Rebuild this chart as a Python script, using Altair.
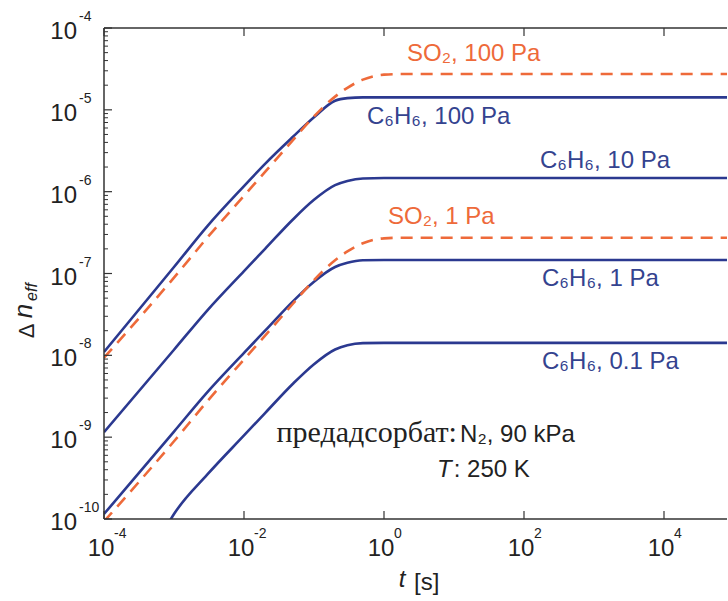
import altair as alt
import pandas as pd

# ---- data ----
t_s = [1e-4, 1e-3, 3e-3, 1e-2, 2e-2, 5e-2, 0.1, 0.2, 0.3, 0.5, 1.0, 2.0, 1e5]

c6h6_100 = [1.10e-8, 1.20e-7, 3.80e-7, 1.17e-6, 2.19e-6, 4.68e-6, 8.13e-6, 1.29e-5, 1.39e-5, 1.42e-5, 1.42e-5, 1.42e-5, 1.42e-5]
c6h6_10 = [1.15e-9, 1.17e-8, 3.55e-8, 1.07e-7, 2.00e-7, 4.57e-7, 7.94e-7, 1.20e-6, 1.35e-6, 1.45e-6, 1.47e-6, 1.47e-6, 1.47e-6]
c6h6_1 = [1.15e-10, 1.17e-9, 3.55e-9, 1.07e-8, 2.00e-8, 4.57e-8, 7.94e-8, 1.20e-7, 1.35e-7, 1.45e-7, 1.46e-7, 1.46e-7, 1.46e-7]
c6h6_01 = [1.13e-12, 1.15e-10, 3.50e-10, 1.05e-9, 1.97e-9, 4.50e-9, 7.80e-9, 1.18e-8, 1.33e-8, 1.41e-8, 1.42e-8, 1.42e-8, 1.42e-8]
so2_100 = [9.33e-9, 8.91e-8, 2.75e-7, 8.91e-7, 1.74e-6, 4.27e-6, 8.32e-6, 1.45e-5, 1.86e-5, 2.34e-5, 2.69e-5, 2.74e-5, 2.74e-5]
so2_1 = [9.33e-11, 8.91e-10, 2.75e-9, 8.91e-9, 1.74e-8, 4.27e-8, 8.32e-8, 1.45e-7, 1.86e-7, 2.34e-7, 2.69e-7, 2.74e-7, 2.74e-7]

blue_series = {"C6H6 100 Pa": c6h6_100, "C6H6 10 Pa": c6h6_10, "C6H6 1 Pa": c6h6_1, "C6H6 0.1 Pa": c6h6_01}
orange_series = {"SO2 100 Pa": so2_100, "SO2 1 Pa": so2_1}

y_major = [1e-10, 1e-9, 1e-8, 1e-7, 1e-6, 1e-5, 1e-4]
y_exp = ["-10", "-9", "-8", "-7", "-6", "-5", "-4"]
x_major = [1e-4, 1e-2, 1.0, 1e2, 1e4]
x_exp = ["-4", "-2", "0", "2", "4"]

ann_text = ["SO\u2082, 100 Pa", "C\u2086H\u2086, 100 Pa", "C\u2086H\u2086, 10 Pa", "SO\u2082, 1 Pa", "C\u2086H\u2086, 1 Pa", "C\u2086H\u2086, 0.1 Pa"]
ann_t = [2.13, 0.571, 169.0, 1.14, 181.0, 181.0]
ann_n = [4.8e-5, 8.17e-6, 2.37e-6, 4.9e-7, 8.57e-8, 8.28e-9]
ann_gas = ["SO2", "C6H6", "C6H6", "SO2", "C6H6", "C6H6"]

# ---- styling ----
BLUE = "#2B3990"
BLUE_TXT = "#34438F"
ORANGE = "#EE6A3A"
FRAME = "#333333"
W, H = 623, 491
XMAX = 10 ** 4.9
SANS = "Liberation Sans"

xs = alt.Scale(type="log", domain=[1e-4, XMAX])
ys = alt.Scale(type="log", domain=[1e-10, 1e-4])


def long_df(series):
    rows = []
    for name, vals in series.items():
        for i, (t, v) in enumerate(zip(t_s, vals)):
            rows.append({"series": name, "t": t, "n": v, "i": i})
    return pd.DataFrame(rows)


df_blue = long_df(blue_series)
df_orange = long_df(orange_series)

blue = alt.Chart(df_blue).mark_line(color=BLUE, strokeWidth=2.6, clip=True, interpolate="monotone").encode(
    x=alt.X("t:Q", scale=xs, axis=None),
    y=alt.Y("n:Q", scale=ys, axis=None),
    detail="series:N",
    order="i:Q",
)
orange = alt.Chart(df_orange).mark_line(color=ORANGE, strokeWidth=2.6, strokeDash=[12, 8], clip=True, interpolate="monotone").encode(
    x=alt.X("t:Q", scale=xs, axis=None),
    y=alt.Y("n:Q", scale=ys, axis=None),
    detail="series:N",
    order="i:Q",
)

one = pd.DataFrame({"a": [0]})
frame_left = alt.Chart(one).mark_rule(color=FRAME, strokeWidth=1.5).encode(
    x=alt.value(0), y=alt.value(0), y2=alt.value(H))
frame_bottom = alt.Chart(one).mark_rule(color=FRAME, strokeWidth=1.5).encode(
    y=alt.value(H), x=alt.value(0), x2=alt.value(W + 2))
frame_top = alt.Chart(one).mark_rule(color=FRAME, strokeWidth=1.5).encode(
    y=alt.value(0), x=alt.value(0), x2=alt.value(W + 2))

# y ticks (major + minor) inward
y_minor = [k * 10.0 ** d for d in range(-10, -4) for k in range(2, 10)]
df_ymaj = pd.DataFrame({"v": y_major, "e": y_exp})
df_ymin = pd.DataFrame({"v": y_minor})
ytick_major = alt.Chart(df_ymaj).mark_rule(color=FRAME, strokeWidth=1.2).encode(
    y=alt.Y("v:Q", scale=ys, axis=None), x=alt.value(0), x2=alt.value(8))
ytick_minor = alt.Chart(df_ymin).mark_rule(color=FRAME, strokeWidth=1.0).encode(
    y=alt.Y("v:Q", scale=ys, axis=None), x=alt.value(0), x2=alt.value(4))

df_xmaj = pd.DataFrame({"v": x_major, "e": x_exp})
xtick_bottom = alt.Chart(df_xmaj).mark_rule(color=FRAME, strokeWidth=1.2).encode(
    x=alt.X("v:Q", scale=xs, axis=None), y=alt.value(H), y2=alt.value(H - 8))
xtick_top = alt.Chart(df_xmaj).mark_rule(color=FRAME, strokeWidth=1.2).encode(
    x=alt.X("v:Q", scale=xs, axis=None), y=alt.value(0), y2=alt.value(8))

# tick labels 10^k
ylab_base = alt.Chart(df_ymaj).mark_text(align="right", baseline="middle", fontSize=24, font=SANS, color="#222", dy=4).encode(
    y=alt.Y("v:Q", scale=ys, axis=None), x=alt.value(-27), text=alt.value("10"))
ylab_exp = alt.Chart(df_ymaj).mark_text(align="left", baseline="middle", fontSize=14, font=SANS, color="#222", dy=-11).encode(
    y=alt.Y("v:Q", scale=ys, axis=None), x=alt.value(-25), text="e:N")
xlab_base = alt.Chart(df_xmaj).mark_text(align="center", baseline="middle", fontSize=24, font=SANS, color="#222", dx=-3).encode(
    x=alt.X("v:Q", scale=xs, axis=None), y=alt.value(H + 30), text=alt.value("10"))
xlab_exp = alt.Chart(df_xmaj).mark_text(align="left", baseline="middle", fontSize=14, font=SANS, color="#222", dx=10).encode(
    x=alt.X("v:Q", scale=xs, axis=None), y=alt.value(H + 15), text="e:N")

# axis titles
xt1 = alt.Chart(one).mark_text(align="center", baseline="middle", fontSize=24, font=SANS, fontStyle="italic", color="#222").encode(
    x=alt.value(298), y=alt.value(552), text=alt.value("t"))
xt2 = alt.Chart(one).mark_text(align="left", baseline="middle", fontSize=24, font=SANS, color="#222").encode(
    x=alt.value(310), y=alt.value(555), text=alt.value("[s]"))
yt1 = alt.Chart(one).mark_text(align="center", baseline="middle", fontSize=22, font=SANS, angle=270, color="#222").encode(
    x=alt.value(-77), y=alt.value(303), text=alt.value("\u0394"))
yt2 = alt.Chart(one).mark_text(align="center", baseline="middle", fontSize=26, font=SANS, fontStyle="italic", angle=270, color="#222").encode(
    x=alt.value(-80), y=alt.value(283), text=alt.value("n"))
yt3 = alt.Chart(one).mark_text(align="center", baseline="middle", fontSize=16, font=SANS, fontStyle="italic", angle=270, color="#222").encode(
    x=alt.value(-72), y=alt.value(264), text=alt.value("eff"))

# curve annotations
df_ann = pd.DataFrame({"t": ann_t, "n": ann_n, "label": ann_text, "gas": ann_gas})
ann = alt.Chart(df_ann).mark_text(align="left", baseline="middle", fontSize=24, font=SANS).encode(
    x=alt.X("t:Q", scale=xs, axis=None),
    y=alt.Y("n:Q", scale=ys, axis=None),
    text="label:N",
    color=alt.Color("gas:N", scale=alt.Scale(domain=["SO2", "C6H6"], range=[ORANGE, BLUE_TXT]), legend=None),
)

# conditions text
note_t = [11.0, 12.2, 5.71, 9.9]
note_n = [8.73e-10, 8.73e-10, 3.26e-10, 3.26e-10]
note1 = alt.Chart(pd.DataFrame({"t": [note_t[0]], "n": [note_n[0]]})).mark_text(
    align="right", baseline="alphabetic", fontSize=30, font="Liberation Serif", color="#222").encode(
    x=alt.X("t:Q", scale=xs, axis=None), y=alt.Y("n:Q", scale=ys, axis=None), text=alt.value("предадсорбат:"))
note2 = alt.Chart(pd.DataFrame({"t": [note_t[1]], "n": [note_n[1]]})).mark_text(
    align="left", baseline="alphabetic", fontSize=24, font=SANS, color="#222").encode(
    x=alt.X("t:Q", scale=xs, axis=None), y=alt.Y("n:Q", scale=ys, axis=None), text=alt.value("N\u2082, 90 kPa"))
note3 = alt.Chart(pd.DataFrame({"t": [note_t[2]], "n": [note_n[2]]})).mark_text(
    align="left", baseline="alphabetic", fontSize=24, font=SANS, fontStyle="italic", color="#222").encode(
    x=alt.X("t:Q", scale=xs, axis=None), y=alt.Y("n:Q", scale=ys, axis=None), text=alt.value("T"))
note4 = alt.Chart(pd.DataFrame({"t": [note_t[3]], "n": [note_n[3]]})).mark_text(
    align="left", baseline="alphabetic", fontSize=24, font=SANS, color="#222").encode(
    x=alt.X("t:Q", scale=xs, axis=None), y=alt.Y("n:Q", scale=ys, axis=None), text=alt.value(": 250 K"))

chart = alt.layer(
    blue, orange,
    frame_left, frame_bottom, frame_top,
    ytick_major, ytick_minor, xtick_bottom, xtick_top,
    ylab_base, ylab_exp, xlab_base, xlab_exp,
    xt1, xt2, yt1, yt2, yt3,
    ann, note1, note2, note3, note4,
).properties(
    width=W, height=H,
    autosize=alt.AutoSizeParams(type="none"),
    padding={"left": 104, "top": 28, "right": 0, "bottom": 79},
    background="white",
).configure_view(stroke=None)

chart.save("out.html", embed_options={"renderer": "svg", "actions": False})
